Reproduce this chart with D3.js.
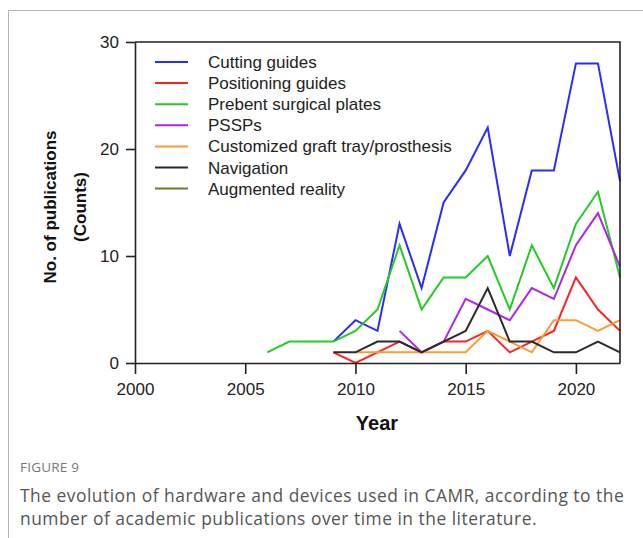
<!DOCTYPE html>
<html>
<head>
<meta charset="utf-8">
<script src="https://cdn.jsdelivr.net/npm/d3@7"></script>
<style>
  body { margin: 0; background: #fff; }
</style>
</head>
<body>
<script>
// data (publications per year)
var cuttingGuides = [[2009,2],[2010,4],[2011,3],[2012,13],[2013,7],[2014,15],[2015,18],[2016,22],[2017,10],[2018,18],[2019,18],[2020,28],[2021,28],[2022,17]];
var positioningGuides = [[2009,1],[2010,0],[2011,1],[2012,2],[2013,1],[2014,2],[2015,2],[2016,3],[2017,1],[2018,2],[2019,3],[2020,8],[2021,5],[2022,3]];
var prebentPlates = [[2006,1],[2007,2],[2008,2],[2009,2],[2010,3],[2011,5],[2012,11],[2013,5],[2014,8],[2015,8],[2016,10],[2017,5],[2018,11],[2019,7],[2020,13],[2021,16],[2022,8]];
var pssps = [[2012,3],[2013,1],[2014,2],[2015,6],[2016,5],[2017,4],[2018,7],[2019,6],[2020,11],[2021,14],[2022,9]];
var graftTray = [[2010,1],[2011,1],[2012,1],[2013,1],[2014,1],[2015,1],[2016,3],[2017,2],[2018,1],[2019,4],[2020,4],[2021,3],[2022,4]];
var navigation = [[2009,1],[2010,1],[2011,2],[2012,2],[2013,1],[2014,2],[2015,3],[2016,7],[2017,2],[2018,2],[2019,1],[2020,1],[2021,2],[2022,1]];
var augmentedReality = []; // no visible line in the figure

var seriesNames = ["Cutting guides","Positioning guides","Prebent surgical plates","PSSPs","Customized graft tray/prosthesis","Navigation","Augmented reality"];
var seriesData = [cuttingGuides, positioningGuides, prebentPlates, pssps, graftTray, navigation, augmentedReality];
var seriesColors = ["#2b2bff","#ff2222","#22cc22","#b026e8","#ff9a33","#2a2a2a","#6b7a2e"];

var xTicks = [2000, 2005, 2010, 2015, 2020];
var yTicks = [0, 10, 20, 30];

function init(){
    var w = 643, h = 538;
    var pLeft = 135, pRight = 620, pTop = 42, pBottom = 363;

    var svg = d3.select("body").append("svg")
        .attr("width", w)
        .attr("height", h);

    // card border around figure
    svg.append("rect")
        .attr("x", 8.5).attr("y", 10.5)
        .attr("width", 700).attr("height", 600)
        .attr("fill", "none")
        .attr("stroke", "#b5b5b5");

    var x = d3.scaleLinear().domain([2000, 2022]).range([pLeft, pRight]);
    var y = d3.scaleLinear().domain([0, 30]).range([pBottom, pTop]);

    // lines
    var line = d3.line()
        .x(function(d){ return x(d[0]); })
        .y(function(d){ return y(d[1]); });

    seriesData.forEach(function(data, i){
        if (data.length == 0) return;
        svg.append("path")
            .datum(data)
            .attr("d", line)
            .attr("fill", "none")
            .attr("stroke", seriesColors[i])
            .attr("stroke-width", 2);
    });

    // top and right frame
    svg.append("path")
        .attr("d", "M" + pLeft + "," + pTop + "H" + pRight + "V" + pBottom)
        .attr("fill", "none")
        .attr("stroke", "#222")
        .attr("stroke-width", 1.6);

    // axes
    var xAxis = d3.axisBottom(x).tickValues(xTicks).tickFormat(d3.format("d"))
        .tickSizeInner(11).tickSizeOuter(0).tickPadding(9);
    var yAxis = d3.axisLeft(y).tickValues(yTicks)
        .tickSizeInner(9).tickSizeOuter(0).tickPadding(7);

    var gx = svg.append("g").attr("transform", "translate(0," + pBottom + ")").call(xAxis);
    var gy = svg.append("g").attr("transform", "translate(" + pLeft + ",0)").call(yAxis);

    [gx, gy].forEach(function(g){
        g.selectAll("path, line").attr("stroke", "#222").attr("stroke-width", 1.6);
        g.selectAll("text")
            .attr("font-family", "Liberation Sans, Arial, sans-serif")
            .attr("font-size", "17px")
            .attr("fill", "#222");
    });

    // axis titles
    svg.append("text")
        .attr("x", 377).attr("y", 430)
        .attr("text-anchor", "middle")
        .attr("font-family", "Liberation Sans, Arial, sans-serif")
        .attr("font-weight", "bold")
        .attr("font-size", "20px")
        .attr("fill", "#111")
        .text("Year");

    var yTitle = svg.append("text")
        .attr("transform", "translate(50,207) rotate(-90)")
        .attr("text-anchor", "middle")
        .attr("font-family", "Liberation Sans, Arial, sans-serif")
        .attr("font-weight", "bold")
        .attr("font-size", "17px")
        .attr("fill", "#111");
    yTitle.append("tspan").attr("x", 0).attr("y", 6).text("No. of publications");
    yTitle.append("tspan").attr("x", 0).attr("y", 36).text("(Counts)");

    // legend
    var legend = svg.append("g");
    seriesNames.forEach(function(name, i){
        var ly = 62 + i * 21.1;
        legend.append("line")
            .attr("x1", 155).attr("x2", 188)
            .attr("y1", ly).attr("y2", ly)
            .attr("stroke", seriesColors[i])
            .attr("stroke-width", 2);
        legend.append("text")
            .attr("x", 208).attr("y", ly + 6)
            .attr("font-family", "Liberation Sans, Arial, sans-serif")
            .attr("font-size", "17px")
            .attr("fill", "#222")
            .text(name);
    });

    // caption
    svg.append("text")
        .attr("x", 20).attr("y", 472)
        .attr("font-family", "Open Sans, sans-serif")
        .attr("font-size", "13.5px")
        .attr("letter-spacing", "0.2px")
        .attr("fill", "#777")
        .text("FIGURE 9");

    var captionLines = ["The evolution of hardware and devices used in CAMR, according to the",
                        "number of academic publications over time in the literature."];
    captionLines.forEach(function(t, i){
        svg.append("text")
            .attr("x", 20).attr("y", 502 + i * 22.5)
            .attr("font-family", "Open Sans, sans-serif")
            .attr("font-size", "17.4px")
            .attr("letter-spacing", "0.5px")
            .attr("fill", "#555")
            .text(t);
    });
}
window.onload = init;
</script>
</body>
</html>
